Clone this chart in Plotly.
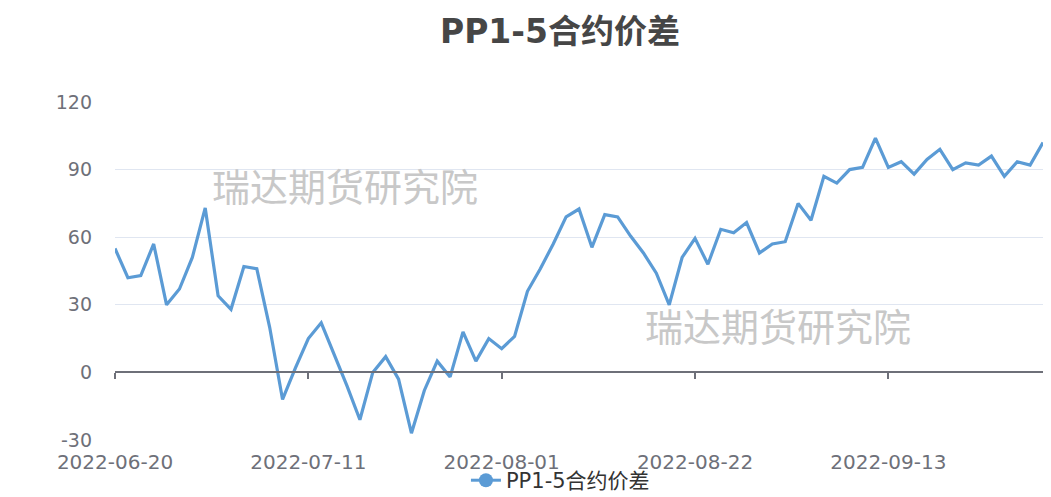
import plotly.graph_objects as go

dates = [
    "2022-06-20", "2022-06-21", "2022-06-22", "2022-06-23", "2022-06-24",
    "2022-06-27", "2022-06-28", "2022-06-29", "2022-06-30", "2022-07-01",
    "2022-07-04", "2022-07-05", "2022-07-06", "2022-07-07", "2022-07-08",
    "2022-07-11", "2022-07-12", "2022-07-13", "2022-07-14", "2022-07-15",
    "2022-07-18", "2022-07-19", "2022-07-20", "2022-07-21", "2022-07-22",
    "2022-07-25", "2022-07-26", "2022-07-27", "2022-07-28", "2022-07-29",
    "2022-08-01", "2022-08-02", "2022-08-03", "2022-08-04", "2022-08-05",
    "2022-08-08", "2022-08-09", "2022-08-10", "2022-08-11", "2022-08-12",
    "2022-08-15", "2022-08-16", "2022-08-17", "2022-08-18", "2022-08-19",
    "2022-08-22", "2022-08-23", "2022-08-24", "2022-08-25", "2022-08-26",
    "2022-08-29", "2022-08-30", "2022-08-31", "2022-09-01", "2022-09-02",
    "2022-09-05", "2022-09-06", "2022-09-07", "2022-09-08", "2022-09-09",
    "2022-09-13", "2022-09-14", "2022-09-15", "2022-09-16", "2022-09-19",
    "2022-09-20", "2022-09-21", "2022-09-22", "2022-09-23", "2022-09-26",
    "2022-09-27", "2022-09-28", "2022-09-29",
]

spread = [
    55, 42, 43, 57, 30, 37, 51, 73, 34, 28,
    47, 46, 20, -12, 2, 15, 22, 8, -6, -21,
    0, 7, -3, -27, -8, 5, -2, 18, 5, 15,
    10.5, 16, 36, 46, 57, 69, 72.5, 55.5, 70, 69,
    60.5, 53, 44, 30, 51, 59.5, 48, 63.5, 62, 66.5,
    53, 57, 58, 75, 67.5, 87, 84, 90, 91, 104,
    91, 93.5, 88, 94.5, 99, 90, 93, 92, 96, 87,
    93.5, 92, 102,
]

series_name = "PP1-5合约价差"
title_text = "PP1-5合约价差"
watermark = "瑞达期货研究院"
y_ticks = [-30, 0, 30, 60, 90, 120]
y_ticktext = ["-30", "0", "30", "60", "90", "120"]
x_ticks = dates[::15]

LINE_COLOR = "#5B9BD5"
AXIS_COLOR = "#6E7079"
GRID_COLOR = "#E0E6F1"
FONT = "DejaVu Sans, Noto Sans CJK SC, sans-serif"

# the page body has an 8px margin, so the figure is sized to fit the window
W, H = 1043, 489

fig = go.Figure()

fig.add_trace(go.Scatter(
    x=dates, y=spread, mode="lines", name=series_name,
    line=dict(color=LINE_COLOR, width=3.2),
    showlegend=False, cliponaxis=False,
))
# legend entry (line + circle)
fig.add_trace(go.Scatter(
    x=[None], y=[None], mode="lines+markers", name=series_name,
    line=dict(color=LINE_COLOR, width=3),
    marker=dict(color=LINE_COLOR, size=14),
    showlegend=True,
))
# invisible trace carrying the zero-level axis line with ticks
fig.add_trace(go.Scatter(
    x=dates, y=spread, xaxis="x2", mode="lines",
    line=dict(width=0, color="rgba(0,0,0,0)"),
    hoverinfo="skip", showlegend=False,
))

fig.update_layout(
    width=W, height=H,
    margin=dict(l=107, r=8, t=94, b=57, autoexpand=False),
    paper_bgcolor="white", plot_bgcolor="white",
    font=dict(family=FONT, color=AXIS_COLOR),
    title=dict(
        text=f"<b>{title_text}</b>",
        xref="paper", x=0.4795, xanchor="center",
        yref="container", y=1 - 23 / H, yanchor="middle",
        font=dict(size=33, color="#464646", family=FONT),
    ),
    xaxis=dict(
        type="category", range=[0, len(dates) - 1], autorange=False,
        tickmode="array", tickvals=x_ticks, ticktext=x_ticks,
        showline=False, showgrid=False, ticks="", zeroline=False,
        tickfont=dict(size=20, color=AXIS_COLOR), ticklabelstandoff=8,
        automargin=False,
    ),
    xaxis2=dict(
        type="category", matches="x", overlaying="x", anchor="free",
        position=0.2, side="bottom",
        tickmode="array", tickvals=x_ticks,
        showticklabels=False, showgrid=False, zeroline=False,
        showline=True, linecolor=AXIS_COLOR, linewidth=1.5,
        ticks="outside", ticklen=6, tickwidth=1.5, tickcolor=AXIS_COLOR,
        automargin=False,
    ),
    yaxis=dict(
        range=[-30, 120], autorange=False,
        tickmode="array", tickvals=y_ticks, ticktext=y_ticktext,
        showgrid=True, gridcolor=GRID_COLOR, gridwidth=1,
        zeroline=False, showline=False, ticks="",
        tickfont=dict(size=19, color=AXIS_COLOR), ticklabelstandoff=22,
        automargin=False,
    ),
    legend=dict(
        orientation="h", x=0.48, xanchor="center",
        y=-0.12, yanchor="middle",
        font=dict(size=21, color="#333333"),
        bgcolor="rgba(0,0,0,0)",
    ),
    annotations=[
        dict(text=watermark, xref="paper", yref="paper", x=0.248, y=0.746,
             xanchor="center", yanchor="middle",
             showarrow=False, font=dict(size=38, color="#C8C8C8", family=FONT)),
        dict(text=watermark, xref="paper", yref="paper", x=0.714, y=0.331,
             xanchor="center", yanchor="middle",
             showarrow=False, font=dict(size=38, color="#C8C8C8", family=FONT)),
    ],
)

fig.write_html("out.html")
